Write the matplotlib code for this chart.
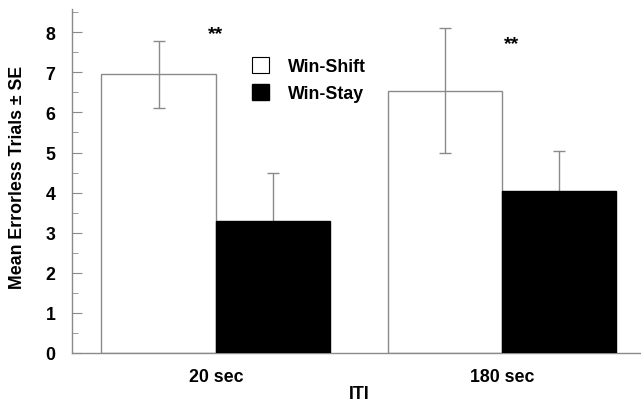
import matplotlib
matplotlib.use("Agg")
import matplotlib.pyplot as plt
from matplotlib.patches import Patch
import numpy as np

plt.rcParams['font.family'] = ['Liberation Sans', 'DejaVu Sans']
plt.rcParams['font.weight'] = 'bold'

categories = ["20 sec", "180 sec"]
series_names = ["Win-Shift", "Win-Stay"]
win_shift = [6.95, 6.54]
win_shift_se = [0.83, 1.56]
win_stay = [3.29, 4.03]
win_stay_se = [1.2, 1.0]
yticks = [0, 1, 2, 3, 4, 5, 6, 7, 8]
sig_labels = ["**", "**"]
sig_y = [7.97, 7.73]

FS = 12.8

fig = plt.figure(figsize=(6.41, 4.02), dpi=100)
ax = fig.add_axes([72/641, 1-354/402, 1-72/641, (354-10)/402])

x = np.arange(len(categories))
w = 0.4
gray = '#8a8a8a'
ax.bar(x - w/2, win_shift, w, color='white', edgecolor=gray, linewidth=1.0, zorder=2)
ax.bar(x + w/2, win_stay, w, color='black', edgecolor='black', linewidth=1.0, zorder=3)
ax.errorbar(x - w/2, win_shift, yerr=win_shift_se, fmt='none', ecolor=gray,
            elinewidth=1.0, capsize=4, capthick=1.0, zorder=4)
ax.errorbar(x + w/2, win_stay, yerr=win_stay_se, fmt='none',
            ecolor=gray, elinewidth=1.0, capsize=4, capthick=1.0, zorder=1)

for xi, s, yy, dx in zip(x, sig_labels, sig_y, [0, 0.035]):
    ax.text(xi + dx, yy, s, ha='center', va='center', fontsize=14, fontweight='bold')

ax.set_xlim(-0.503, 1.486)
ax.set_ylim(0, 8.58)
ax.set_yticks(yticks)
ax.set_yticks(np.arange(0.5, 8.6, 0.5), minor=True)
ax.set_xticks(x)
ax.set_xticklabels(categories, fontsize=FS, fontweight='bold')
ax.tick_params(axis='x', length=0, pad=11)
ax.tick_params(axis='y', which='major', direction='in', length=7, color=gray, labelsize=FS, pad=12)
ax.tick_params(axis='y', which='minor', direction='in', length=4, color=gray)
for lab in ax.get_yticklabels():
    lab.set_fontweight('bold')
for sp in ['top', 'right']:
    ax.spines[sp].set_visible(False)
for sp in ['left', 'bottom']:
    ax.spines[sp].set_color(gray)
    ax.spines[sp].set_linewidth(1.0)

fig.text((72 + (641-72)*(0.503+0.5)/(1.486+0.503))/641, 1-395/402, "ITI",
         ha='center', va='center', fontsize=FS, fontweight='bold')
fig.text(18/641, 1-177/402, "Mean Errorless Trials \u00b1 SE", rotation=90,
         ha='center', va='center', fontsize=FS, fontweight='bold')

handles = [Patch(facecolor='white', edgecolor='black', linewidth=0.8),
           Patch(facecolor='black', edgecolor='black')]
ax.legend(handles, series_names, loc='upper left', bbox_to_anchor=(252/641, 1-58/402),
          bbox_transform=fig.transFigure, frameon=False,
          handlelength=0.95, handleheight=1.0, handletextpad=1.1, labelspacing=0.5,
          borderpad=0, borderaxespad=0, prop={'weight': 'bold', 'size': FS})

fig.savefig("out.png", dpi=100)
